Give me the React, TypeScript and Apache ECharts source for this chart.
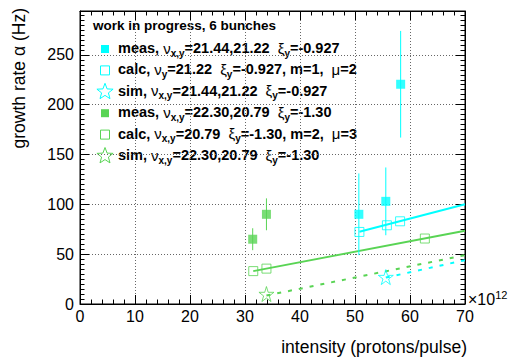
import React, { useEffect, useRef } from "react";
import * as echarts from "echarts";

// measured growth rates (filled squares) with errors
const measCyanX = [50.7, 55.6, 58.3];
const measCyanY = [90, 103, 220.5];
const measCyanErr = [41, 34, 53.5];
const measGreenX = [31.4, 33.9];
const measGreenY = [65, 90];
const measGreenErr = [11, 16];

// calculated values (open squares)
const calcCyanX = [50.8, 55.8, 58.2];
const calcCyanY = [72.3, 79, 83];
const calcGreenX = [31.5, 33.9, 62.7];
const calcGreenY = [33, 35.5, 65.7];

// simulation points (open stars)
const simCyanX = [55.6];
const simCyanY = [27];
const simGreenX = [33.9];
const simGreenY = [10];

// calculated trend lines (solid) and simulated trends (dashed)
const fitCyanX = [50.8, 70];
const fitCyanY = [72.5, 100];
const fitGreenX = [31.5, 70];
const fitGreenY = [33, 73.5];
const trendCyanX = [55.6, 70];
const trendCyanY = [26.5, 44];
const trendGreenX = [33.9, 70];
const trendGreenY = [8.5, 49];

const legendTitle = "work in progress, 6 bunches";
const xTitle = "intensity (protons/pulse)";
const yTitle = "growth rate α (Hz)";

const CYAN = "#00ffff";
const GREEN = "#59d454";
const FONT = "Liberation Sans, Arial, Helvetica, sans-serif";
const STAR = "path://M50,0 L61,35 L98,35 L68,57 L79,91 L50,70 L21,91 L32,57 L2,35 L39,35 Z";

const zip = (xs: number[], ys: number[]) => xs.map((x, i) => [x, ys[i]]);
const zip3 = (xs: number[], ys: number[], es: number[]) => xs.map((x, i) => [x, ys[i], es[i]]);

const starPoints = (cx: number, cy: number, r: number) => {
  const pts: number[][] = [];
  for (let i = 0; i < 10; i++) {
    const rr = i % 2 === 0 ? r : r * 0.42;
    const a = -Math.PI / 2 + (i * Math.PI) / 5;
    pts.push([cx + rr * Math.cos(a), cy + rr * Math.sin(a)]);
  }
  return pts;
};

const errorBars = (data: number[][], color: string) => ({
  type: "custom",
  data,
  z: 2,
  silent: true,
  renderItem: (_p: any, api: any) => {
    const x = api.value(0);
    const y = api.value(1);
    const e = api.value(2);
    const a = api.coord([x, y - e]);
    const b = api.coord([x, y + e]);
    return {
      type: "line",
      shape: { x1: a[0], y1: a[1], x2: b[0], y2: b[1] },
      style: { stroke: color, lineWidth: 1 },
    };
  },
});

const rich = {
  b: { fontFamily: FONT, fontWeight: "bold", fontSize: 14.5, color: "#000" },
  g: { fontFamily: FONT, fontWeight: "normal", fontSize: 15, color: "#000" },
  s: { fontFamily: FONT, fontWeight: "bold", fontSize: 10, color: "#000", padding: [10, 0, 0, 0] },
};

const legendRows = [
  { text: "{b|meas, }{g|ν}{s|x,y}{b|=21.44,21.22  }{g|ξ}{s|y}{b|=-0.927}", color: CYAN, kind: "fill" },
  { text: "{b|calc, }{g|ν}{s|y}{b|=21.22  }{g|ξ}{s|y}{b|=-0.927, m=1,  }{g|μ}{b|=2}", color: CYAN, kind: "open" },
  { text: "{b|sim, }{g|ν}{s|x,y}{b|=21.44,21.22  }{g|ξ}{s|y}{b|=-0.927}", color: CYAN, kind: "star" },
  { text: "{b|meas, }{g|ν}{s|x,y}{b|=22.30,20.79  }{g|ξ}{s|y}{b|=-1.30}", color: GREEN, kind: "fill" },
  { text: "{b|calc, }{g|ν}{s|x,y}{b|=20.79  }{g|ξ}{s|y}{b|=-1.30, m=2,  }{g|μ}{b|=3}", color: GREEN, kind: "open" },
  { text: "{b|sim, }{g|ν}{s|x,y}{b|=22.30,20.79  }{g|ξ}{s|y}{b|=-1.30}", color: GREEN, kind: "star" },
];

const legendGraphics = () => {
  const els: any[] = [
    {
      type: "text",
      left: 93,
      top: 18,
      style: { text: legendTitle, font: `bold 13.5px ${FONT}`, fill: "#000" },
    },
  ];
  legendRows.forEach((row, i) => {
    const cy = 49 + i * 21.4;
    const cx = 105;
    if (row.kind === "fill") {
      els.push({ type: "rect", shape: { x: cx - 4, y: cy - 4, width: 8, height: 8 }, style: { fill: row.color } });
    } else if (row.kind === "open") {
      els.push({
        type: "rect",
        shape: { x: cx - 4.5, y: cy - 4.5, width: 9, height: 9 },
        style: { fill: "none", stroke: row.color, lineWidth: 1 },
      });
    } else {
      els.push({
        type: "polygon",
        shape: { points: starPoints(cx, cy, 8.5) },
        style: { fill: "none", stroke: row.color, lineWidth: 1 },
      });
    }
    els.push({
      type: "text",
      x: 118,
      y: cy - 1,
      style: { text: row.text, rich, verticalAlign: "middle", align: "left" },
    });
  });
  return els;
};

const gridLine = { show: true, lineStyle: { color: "#666", type: [1, 2], width: 1 } };

export default function App() {
  const ref = useRef<HTMLDivElement>(null);
  useEffect(() => {
    document.body.style.margin = "0";
    const chart = echarts.init(ref.current!, null, { renderer: "svg" });
    const tickCommon = {
      axisLine: { show: true, onZero: false, lineStyle: { color: "#000", width: 1 } },
      axisTick: { show: true, inside: true, length: 9, lineStyle: { color: "#000" } },
      minorTick: { show: true, length: 4.5, lineStyle: { color: "#000" } },
    };
    chart.setOption({
      animation: false,
      backgroundColor: "#fff",
      grid: { left: 80, right: 46, top: 11, bottom: 56, show: true, borderColor: "#000", borderWidth: 1 },
      xAxis: [
        {
          type: "value",
          min: 0,
          max: 70,
          interval: 10,
          position: "bottom",
          ...tickCommon,
          minorTick: { ...tickCommon.minorTick, splitNumber: 5 },
          axisLabel: { color: "#000", fontSize: 16, fontFamily: FONT, margin: 4 },
          splitLine: gridLine,
        },
        {
          type: "value",
          min: 0,
          max: 70,
          interval: 10,
          position: "top",
          ...tickCommon,
          minorTick: { ...tickCommon.minorTick, splitNumber: 5 },
          axisLabel: { show: false },
          splitLine: { show: false },
        },
      ],
      yAxis: [
        {
          type: "value",
          min: 0,
          max: 294,
          interval: 50,
          position: "left",
          ...tickCommon,
          minorTick: { ...tickCommon.minorTick, splitNumber: 10 },
          axisLabel: { color: "#000", fontSize: 16, fontFamily: FONT, margin: 6, showMaxLabel: false },
          splitLine: gridLine,
        },
        {
          type: "value",
          min: 0,
          max: 294,
          interval: 50,
          position: "right",
          ...tickCommon,
          minorTick: { ...tickCommon.minorTick, splitNumber: 10 },
          axisLabel: { show: false },
          splitLine: { show: false },
        },
      ],
      series: [
        {
          type: "line",
          data: zip(fitCyanX, fitCyanY),
          symbol: "none",
          lineStyle: { color: CYAN, width: 2 },
          z: 1,
        },
        {
          type: "line",
          data: zip(fitGreenX, fitGreenY),
          symbol: "none",
          lineStyle: { color: GREEN, width: 2 },
          z: 1,
        },
        {
          type: "line",
          data: zip(trendCyanX, trendCyanY),
          symbol: "none",
          lineStyle: { color: CYAN, width: 2, type: [4, 7] },
          z: 1,
        },
        {
          type: "line",
          data: zip(trendGreenX, trendGreenY),
          symbol: "none",
          lineStyle: { color: GREEN, width: 2, type: [4, 7] },
          z: 1,
        },
        errorBars(zip3(measCyanX, measCyanY, measCyanErr), CYAN),
        errorBars(zip3(measGreenX, measGreenY, measGreenErr), GREEN),
        {
          type: "scatter",
          data: zip(measCyanX, measCyanY),
          symbol: "rect",
          symbolSize: 9,
          itemStyle: { color: CYAN },
          z: 3,
        },
        {
          type: "scatter",
          data: zip(measGreenX, measGreenY),
          symbol: "rect",
          symbolSize: 9,
          itemStyle: { color: GREEN },
          z: 3,
        },
        {
          type: "scatter",
          data: zip(calcCyanX, calcCyanY),
          symbol: "rect",
          symbolSize: 9,
          itemStyle: { color: "rgba(0,0,0,0)", borderColor: CYAN, borderWidth: 1 },
          z: 3,
        },
        {
          type: "scatter",
          data: zip(calcGreenX, calcGreenY),
          symbol: "rect",
          symbolSize: 9,
          itemStyle: { color: "rgba(0,0,0,0)", borderColor: GREEN, borderWidth: 1 },
          z: 3,
        },
        {
          type: "scatter",
          data: zip(simCyanX, simCyanY),
          symbol: STAR,
          symbolSize: 15,
          itemStyle: { color: "rgba(0,0,0,0)", borderColor: CYAN, borderWidth: 1 },
          z: 3,
        },
        {
          type: "scatter",
          data: zip(simGreenX, simGreenY),
          symbol: STAR,
          symbolSize: 15,
          itemStyle: { color: "rgba(0,0,0,0)", borderColor: GREEN, borderWidth: 1 },
          z: 3,
        },
      ],
      graphic: [
        ...legendGraphics(),
        {
          type: "text",
          x: 19,
          y: 8,
          rotation: Math.PI / 2,
          style: { text: yTitle, font: `17.5px ${FONT}`, fill: "#000", align: "right", verticalAlign: "middle" },
        },
        {
          type: "text",
          x: 467,
          y: 347,
          style: { text: xTitle, font: `17.5px ${FONT}`, fill: "#000", align: "right", verticalAlign: "middle" },
        },
        {
          type: "text",
          x: 468,
          y: 299,
          style: {
            text: "{m|×10}{p|12}",
            verticalAlign: "middle",
            rich: {
              m: { fontFamily: FONT, fontSize: 16, color: "#000" },
              p: { fontFamily: FONT, fontSize: 11, color: "#000", padding: [0, 0, 9, 0] },
            },
          },
        },
      ],
    });
    return () => chart.dispose();
  }, []);
  return <div ref={ref} style={{ width: 511, height: 360 }} />;
}
